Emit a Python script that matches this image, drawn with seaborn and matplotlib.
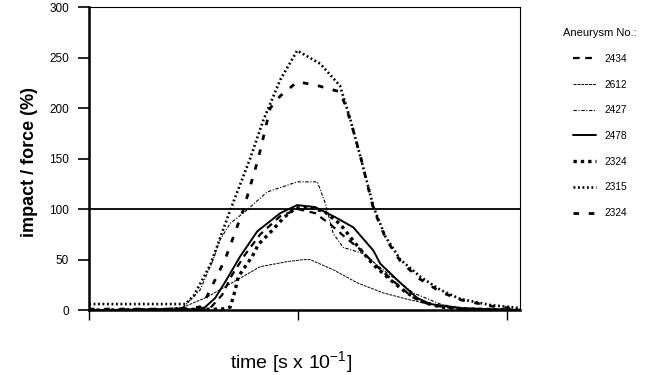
import matplotlib
matplotlib.use("Agg")
import matplotlib.pyplot as plt
import seaborn as sns

# values: time in s x 10^-1, impact / force in %
t_2434 = [0, 5.3, 5.79, 6.36, 6.84, 7.46, 8.18, 9.14, 10.0, 10.81, 11.53, 12.25, 12.97, 13.68, 14.64, 15.45, 16.32, 17.75, 20.6]
y_2434 = [0, 0, 2, 15, 35, 55, 75, 93, 100, 96, 85, 72, 60, 45, 27, 13, 5, 1, 0]

t_2612 = [0, 4.4, 5.65, 7.08, 8.18, 9.47, 10.24, 10.57, 11.67, 12.82, 14.07, 15.36, 16.79, 18.2, 20.6]
y_2612 = [0, 2, 13, 30, 43, 48, 50, 50, 40, 27, 17, 10, 4, 1, 0]

t_2427 = [0, 3.0, 4.5, 5.31, 5.93, 6.27, 6.75, 7.37, 8.52, 9.95, 10.91, 11.29, 11.67, 12.15, 13.11, 13.92, 14.88, 15.5, 16.79, 18.0, 20.6]
y_2427 = [0, 0, 3, 20, 50, 70, 86, 96, 117, 127, 127, 106, 76, 62, 56, 42, 27, 17, 6, 1, 0]

t_2478 = [0, 5.31, 5.55, 6.03, 6.51, 7.22, 8.04, 9.14, 9.95, 10.81, 11.77, 12.63, 13.59, 13.92, 14.88, 15.69, 16.32, 17.75, 20.6]
y_2478 = [0, 1, 3, 12, 28, 53, 78, 96, 104, 102, 92, 82, 59, 46, 27, 12, 6, 2, 0]

t_2324 = [0, 6.36, 6.75, 6.99, 7.13, 7.46, 7.8, 8.09, 8.76, 9.28, 9.86, 10.57, 11.29, 12.01, 12.73, 13.59, 14.4, 15.12, 15.84, 16.79, 18.2, 20.6]
y_2324 = [0, 1, 3, 20, 33, 43, 53, 65, 79, 91, 101, 102, 97, 85, 66, 45, 30, 18, 9, 3, 1, 0]

t_2315 = [0, 2.0, 4.6, 5.0, 5.8, 6.75, 7.7, 8.33, 9.14, 9.95, 11.05, 12.0, 12.5, 12.97, 13.6, 14.16, 14.88, 15.84, 16.79, 17.75, 19.2, 20.6]
y_2315 = [6, 6, 6, 14, 45, 99, 150, 188, 228, 257, 244, 222, 188, 152, 102, 73, 50, 33, 20, 11, 5, 2]

t_2324b = [0, 4.0, 5.3, 5.55, 6.5, 7.37, 8.09, 8.66, 9.14, 9.95, 10.8, 11.5, 12.01, 12.3, 12.6, 13.0, 13.6, 14.2, 14.9, 15.8, 16.8, 17.8, 19.2, 20.6]
y_2324b = [1, 1, 3, 10, 50, 99, 150, 200, 212, 226, 223, 219, 216, 200, 180, 150, 100, 70, 48, 31, 18, 10, 4, 1]

labels = ["2434", "2612", "2427", "2478", "2324", "2315", "2324"]
series = [(t_2434, y_2434), (t_2612, y_2612), (t_2427, y_2427), (t_2478, y_2478),
          (t_2324, y_2324), (t_2315, y_2315), (t_2324b, y_2324b)]

y_ticks = [0, 50, 100, 150, 200, 250, 300]
x_ticks = [0, 10, 20]
ref_level = 100

# line look per curve (black print, told apart by dash pattern)
styles = [
    dict(ls=(0, (3, 2.5)), lw=1.6),
    dict(ls=(0, (3, 1)), lw=0.7),
    dict(ls=(0, (3, 1.5, 1, 1.5)), lw=0.8),
    dict(ls="-", lw=1.4),
    dict(ls=(0, (1, 1.2)), lw=2.4),
    dict(ls=(0, (0.7, 1.0)), lw=1.9),
    dict(ls=(0, (2, 3.5)), lw=2.0),
]

sns.set_style("ticks")
plt.rcParams["font.family"] = ["Liberation Sans", "DejaVu Sans"]
for key in ["text.color", "axes.labelcolor", "xtick.color", "ytick.color", "axes.edgecolor"]:
    plt.rcParams[key] = "black"

fig = plt.figure(figsize=(6.5, 3.75), dpi=100)
ax = fig.add_axes([0.137, 0.173, 0.663, 0.808])

for (t, y), lab, st in zip(series, labels, styles):
    sns.lineplot(x=t, y=y, ax=ax, color="black", label=lab,
                 linestyle=st["ls"], linewidth=st["lw"])

ax.axhline(ref_level, color="black", lw=1.3)

ax.set_xlim(0, 20.6)
ax.set_ylim(0, 300)
ax.set_yticks(y_ticks)
ax.set_xticks(x_ticks)
ax.set_xticklabels([])
ax.tick_params(axis="y", direction="out", length=8, width=1.2, labelsize=8.5, pad=6.5)
ax.tick_params(axis="x", direction="out", length=7, width=1.0)

for side in ["left", "bottom"]:
    ax.spines[side].set_linewidth(1.8)
for side in ["top", "right"]:
    ax.spines[side].set_linewidth(0.8)

ax.set_ylabel("impact / force (%)", fontsize=13, fontweight="bold")
ax.yaxis.set_label_coords(-0.118, 0.49)
ax.set_xlabel(r"time [s x 10$^{\mathregular{-1}}$]", fontsize=14)
ax.xaxis.set_label_coords(0.469, -0.13)

leg = ax.legend(loc="upper left", bbox_to_anchor=(0.866, 0.925), bbox_transform=fig.transFigure,
                frameon=False, title="Aneurysm No.:", fontsize=7.3, title_fontsize=8,
                handlelength=2.3, handletextpad=0.8, labelspacing=1.55,
                borderpad=0, borderaxespad=0)

plt.savefig("out.png", dpi=100)
